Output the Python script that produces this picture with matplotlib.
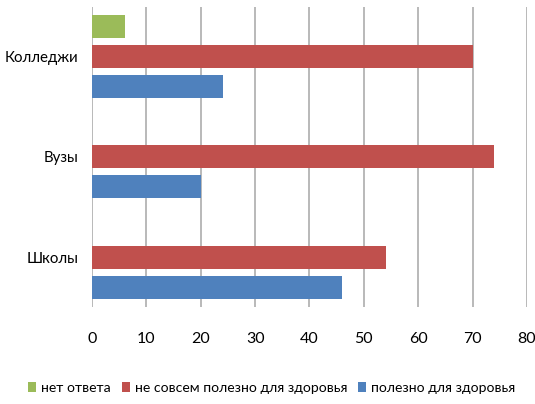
import matplotlib
matplotlib.use("Agg")
import matplotlib.pyplot as plt
import numpy as np

categories = ["Школы", "Вузы", "Колледжи"]
useful = [46, 20, 24]
not_quite = [54, 74, 70]
no_answer = [0, 0, 6]
series_labels = ["нет ответа", "не совсем полезно для здоровья", "полезно для здоровья"]
x_ticks = [0, 10, 20, 30, 40, 50, 60, 70, 80]

plt.rcParams['font.family'] = ['Lato', 'DejaVu Sans']

fig = plt.figure(figsize=(5.35, 4.04), dpi=100)
ax = fig.add_axes([0.172, 0.240, 0.813, 0.743])

y = np.arange(len(categories))
step = 0.3
h = 0.23
colors = {"green": "#9BBB59", "red": "#C0504D", "blue": "#4F81BD"}

b_green = ax.barh(y + step, no_answer, height=h, color=colors["green"], label=series_labels[0], zorder=3)
b_red = ax.barh(y, not_quite, height=h, color=colors["red"], label=series_labels[1], zorder=3)
b_blue = ax.barh(y - step, useful, height=h, color=colors["blue"], label=series_labels[2], zorder=3)

ax.set_xlim(0, 80)
ax.set_ylim(-0.5, 2.5)
ax.set_xticks(x_ticks)
ax.set_yticks(y)
ax.set_yticklabels(categories)
ax.xaxis.grid(True, color="#A6A6A6", linewidth=1.1, zorder=0)
ax.set_axisbelow(True)
for s in ax.spines.values():
    s.set_visible(False)
ax.tick_params(axis='both', length=0, colors="#000000")
ax.tick_params(axis='x', pad=18, labelsize=11.5)
ax.tick_params(axis='y', pad=10, labelsize=10.8)

handles = [b_green, b_red, b_blue]
fig.legend(handles, series_labels, loc='center', bbox_to_anchor=(0.508, 0.04), ncol=3,
           frameon=False, fontsize=10.1, handlelength=0.6, handleheight=0.8,
           handletextpad=0.35, columnspacing=0.75)

fig.savefig("out.png", dpi=100)
